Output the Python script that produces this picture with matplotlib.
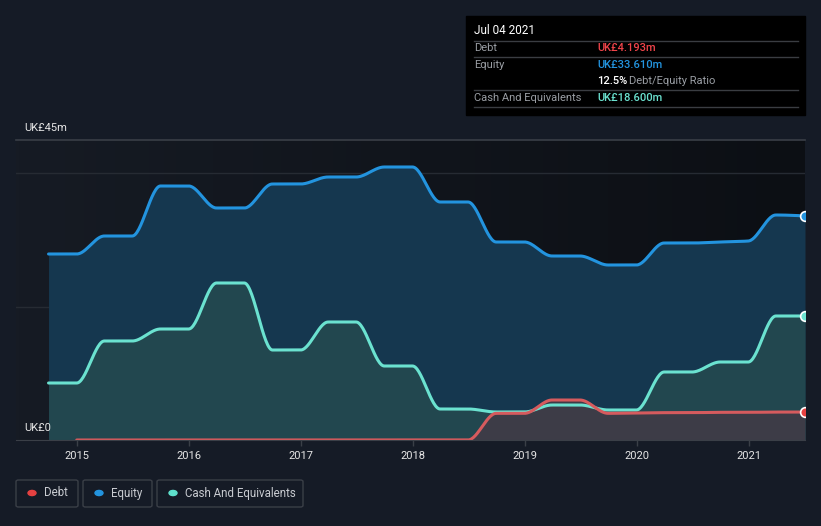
import numpy as np
import pandas as pd
import matplotlib
matplotlib.use("Agg")
import matplotlib.pyplot as plt
from matplotlib.patches import Rectangle, FancyBboxPatch, Circle
from matplotlib.lines import Line2D

plt.rcParams['font.family'] = ['Roboto', 'DejaVu Sans']

# quarterly balance sheet points (UK£m)
dates = list(pd.date_range("2014-09-30", "2021-03-31", freq="QE")) + [pd.Timestamp("2021-07-04")]
equity = [27.9, 27.9, 30.6, 30.6, 38.1, 38.1, 34.8, 34.8, 38.4, 38.4, 39.45, 39.45, 40.95, 40.95,
          35.7, 35.7, 29.7, 29.7, 27.6, 27.6, 26.25, 26.25, 29.55, 29.55, 29.7, 29.85, 33.75, 33.61]
cash = [8.55, 8.55, 14.85, 14.85, 16.65, 16.65, 23.55, 23.55, 13.5, 13.5, 17.7, 17.7, 11.1, 11.1,
        4.65, 4.65, 4.2, 4.2, 5.25, 5.25, 4.5, 4.5, 10.2, 10.2, 11.7, 11.7, 18.6, 18.6]
# debt reported from Dec 2014
debt = [0] * 15 + [4.0, 4.0, 6.0, 6.0, 4.0, 4.05, 4.1, 4.1, 4.15, 4.15, 4.19, 4.193]
years = [2015, 2016, 2017, 2018, 2019, 2020, 2021]

BG = '#151b26'
C_DEBT, C_EQ, C_CASH = '#e64141', '#2394df', '#6be2d0'


def dec_year(d):
    d = pd.Timestamp(d)
    n = 366 if d.is_leap_year else 365
    return d.year + (d.dayofyear - 1) / n


def monotone(x, y, n=30):
    # d3 curveMonotoneX style smoothing
    x = np.asarray(x, float)
    y = np.asarray(y, float)
    h = np.diff(x)
    s = np.diff(y) / h
    t = np.zeros(len(x))
    for i in range(1, len(x) - 1):
        p = (s[i - 1] * h[i] + s[i] * h[i - 1]) / (h[i - 1] + h[i])
        t[i] = (np.sign(s[i - 1]) + np.sign(s[i])) * min(abs(s[i - 1]), abs(s[i]), 0.5 * abs(p))
    t[0] = (3 * s[0] - t[1]) / 2 if len(x) > 2 else s[0]
    t[-1] = (3 * s[-1] - t[-2]) / 2 if len(x) > 2 else s[-1]
    xs, ys = [], []
    for i in range(len(x) - 1):
        u = np.linspace(0, 1, n, endpoint=False)
        h00 = 2 * u**3 - 3 * u**2 + 1
        h10 = u**3 - 2 * u**2 + u
        h01 = -2 * u**3 + 3 * u**2
        h11 = u**3 - u**2
        xs.append(x[i] + u * h[i])
        ys.append(h00 * y[i] + h10 * h[i] * t[i] + h01 * y[i + 1] + h11 * h[i] * t[i + 1])
    xs.append([x[-1]])
    ys.append([y[-1]])
    return np.concatenate(xs), np.concatenate(ys)


W, H = 821, 526
fig = plt.figure(figsize=(W / 100, H / 100), dpi=100, facecolor=BG)


def fx(px):
    return px / W


def fy(py):
    return 1 - py / H


ax = fig.add_axes([fx(16), fy(440), fx(805) - fx(16), fy(140) - fy(440)])
ax.set_facecolor(BG)
xmin = 2015 - 61 / 111.83
xmax = dec_year(dates[-1])
ax.set_xlim(xmin, xmax)
ax.set_ylim(0, 45)

# background gradient, darker to the right
grad = np.linspace(0, 1, 256).reshape(1, -1)
from matplotlib.colors import LinearSegmentedColormap
cm = LinearSegmentedColormap.from_list('bg', ['#161b24', '#0c0f14'])
ax.imshow(grad, aspect='auto', cmap=cm, extent=[xmin, xmax, 0, 45], zorder=0)

for g in [20, 40]:
    ax.axhline(g, color='#262b33', lw=1, zorder=1)
ax.axhline(45, color='#3a3f47', lw=1.2, zorder=1, clip_on=False)

xd = [dec_year(d) for d in dates]
ex, ey = monotone(xd, equity)
cx, cy = monotone(xd, cash)
dx, dy = monotone(xd[1:], debt)

ax.fill_between(ex, ey, 0, color='#15374f', lw=0, zorder=2)
ax.fill_between(cx, cy, 0, color='#22474f', lw=0, zorder=3)
ax.fill_between(dx, dy, 0, color='#3d3c47', lw=0, zorder=4)
ax.plot(ex, ey, color=C_EQ, lw=2.2, zorder=5, solid_capstyle='round')
ax.plot(cx, cy, color=C_CASH, lw=2.2, zorder=6, solid_capstyle='round')
ax.plot(dx, dy, color='#d65b5e', lw=2.2, zorder=7, solid_capstyle='round')

for vals, col in [(equity, C_EQ), (cash, C_CASH), (debt, C_DEBT)]:
    ax.plot([xd[-1]], [vals[-1]], 'o', ms=7, mfc=col, mec='white', mew=1.2, zorder=8)

for sp in ['top', 'right', 'left']:
    ax.spines[sp].set_visible(False)
ax.spines['bottom'].set_color('#3a3f47')
ax.spines['bottom'].set_zorder(9)
ax.set_yticks([])
ax.set_xticks(years)
ax.set_xticklabels([str(y) for y in years])
ax.tick_params(axis='x', colors='#3a3f47', length=4, width=1, labelcolor='#e6e6e6',
               labelsize=8, pad=4)

fig.text(fx(24), fy(128), 'UK£45m', color='#e6e6e6', fontsize=8, va='center', ha='left')
fig.text(fx(24), fy(428), 'UK£0', color='#e6e6e6', fontsize=8, va='center', ha='left', zorder=10)

# tooltip
fig.patches.append(Rectangle((fx(466), fy(115)), fx(805) - fx(466), fy(16) - fy(115),
                             transform=fig.transFigure, color='black', zorder=1))
fig.text(fx(474), fy(31), 'Jul 04 2021', color='white', fontsize=8.5, va='center')
for ly in [41, 57, 90, 107]:
    fig.lines.append(Line2D([fx(474), fx(798)], [fy(ly), fy(ly)], transform=fig.transFigure,
                            color='#3a3d42', lw=1))
rows = [('Debt', 'UK£4.193m', '#f0444a', 48), ('Equity', 'UK£33.610m', C_EQ, 65),
        ('Cash And Equivalents', 'UK£18.600m', C_CASH, 98)]
for lab, val, col, yy in rows:
    fig.text(fx(474), fy(yy), lab, color='#9a9ea4', fontsize=8, va='center')
    fig.text(fx(597), fy(yy), val, color=col, fontsize=8, va='center', fontweight='medium')
fig.text(fx(597), fy(81), '12.5%', color='white', fontsize=8, va='center', fontweight='medium')
fig.text(fx(629), fy(81), 'Debt/Equity Ratio', color='#9a9ea4', fontsize=8, va='center')

# legend boxes
legend = [('Debt', C_DEBT, 16, 78), ('Equity', C_EQ, 83, 152), ('Cash And Equivalents', '#5ee0cc', 157, 303)]
for lab, col, x0, x1 in legend:
    fig.patches.append(FancyBboxPatch((fx(x0), fy(507)), fx(x1) - fx(x0), fy(480) - fy(507),
                                      boxstyle='round,pad=0,rounding_size=0.003',
                                      transform=fig.transFigure, fc='none', ec='#3a3f47', lw=1))
    fig.patches.append(Circle((fx(x0 + 16), fy(493)), 4 / W, transform=fig.transFigure,
                              color=col))
    fig.text(fx(x0 + 28), fy(493), lab, color='#c9ccd1', fontsize=8.3, va='center')

fig.savefig('out.png', dpi=100, facecolor=BG)
